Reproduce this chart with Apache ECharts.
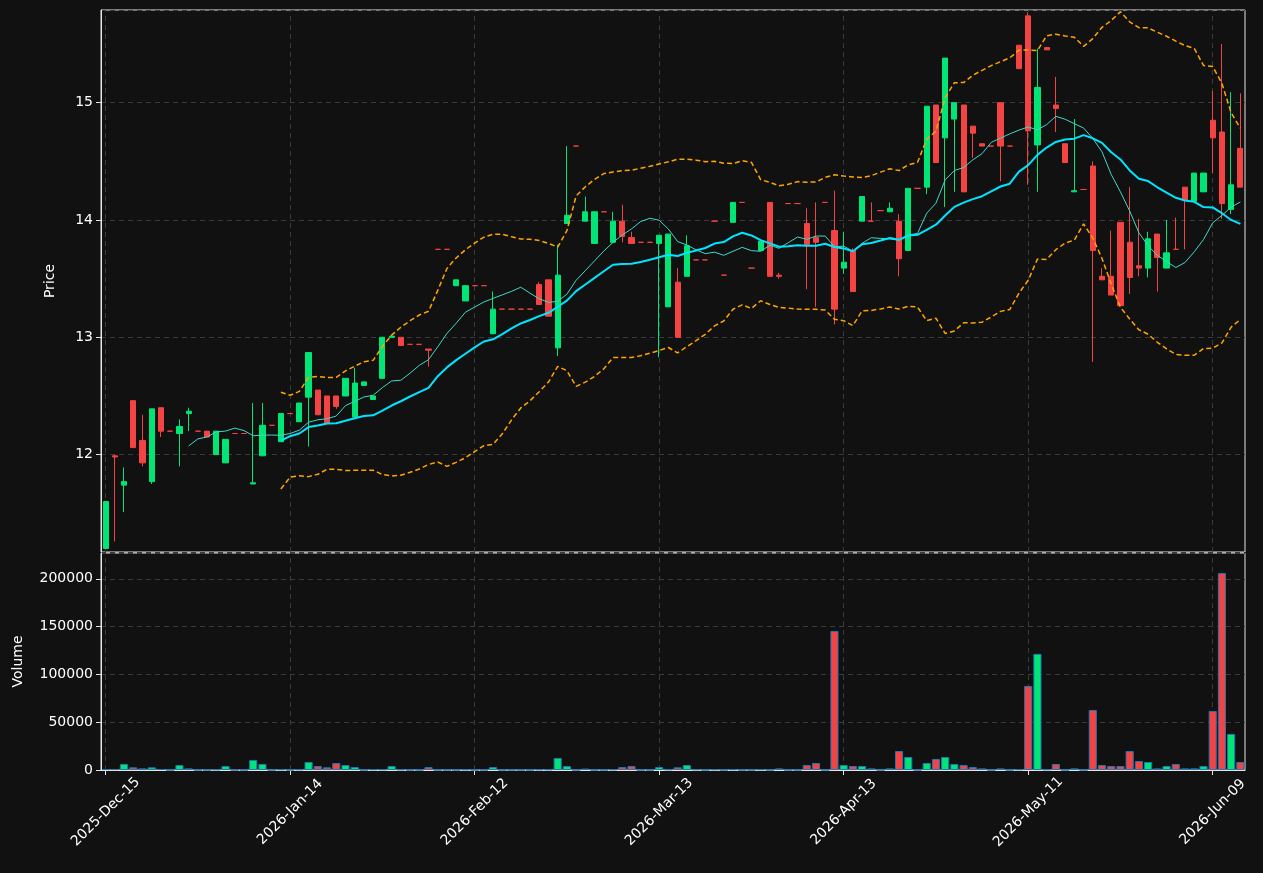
<!DOCTYPE html>
<html>
<head>
<meta charset="utf-8">
<script src="https://cdn.jsdelivr.net/npm/echarts@6/dist/echarts.min.js"></script>
<style>
  html, body { margin: 0; padding: 0; background: #111111; }
  #chart { width: 1263px; height: 873px; }
</style>
</head>
<body>
<div id="chart"></div>
<script>
// open, close, high, low per trading day
var opens = [11.20,11.99,11.74,12.46,12.12,11.77,12.40,12.20,12.18,12.35,12.20,12.20,12.00,11.93,12.18,12.18,11.75,11.99,12.25,12.11,
  12.35,12.28,12.49,12.55,12.50,12.50,12.50,12.32,12.59,12.47,12.65,13.00,13.00,12.94,12.94,12.90,13.75,13.75,13.44,13.31,
  13.44,13.44,13.03,13.24,13.24,13.24,13.24,13.45,13.49,12.91,13.97,14.63,13.99,13.80,14.07,13.81,13.99,13.85,13.81,13.81,
  13.80,13.26,13.47,13.52,13.66,13.66,13.99,13.53,13.98,14.15,13.59,13.74,14.15,13.53,14.14,14.14,13.97,13.85,14.15,13.91,
  13.59,13.74,13.99,13.99,14.08,14.07,13.99,13.74,14.27,14.28,14.98,14.70,14.86,14.98,14.80,14.65,14.63,15.00,14.63,15.49,
  15.74,14.64,15.47,14.98,14.65,14.24,14.26,14.46,13.52,13.52,13.98,13.81,13.61,13.59,13.88,13.59,13.75,14.28,14.16,14.24,
  14.85,14.75,14.09,14.61];
var closes = [11.60,11.98,11.77,12.06,11.93,12.39,12.20,12.20,12.24,12.37,12.20,12.15,12.20,12.13,12.18,12.18,11.76,12.25,12.25,12.35,
  12.35,12.44,12.87,12.34,12.27,12.41,12.65,12.61,12.62,12.50,13.00,13.01,12.93,12.94,12.94,12.89,13.75,13.75,13.49,13.44,
  13.44,13.44,13.24,13.24,13.24,13.24,13.24,13.28,13.18,13.53,14.04,14.63,14.07,14.07,14.07,13.99,13.86,13.80,13.81,13.81,
  13.87,13.88,13.00,13.78,13.66,13.66,13.99,13.53,14.15,14.15,13.59,13.82,13.52,13.52,14.14,14.14,13.79,13.81,14.15,13.24,
  13.64,13.39,14.20,13.99,14.08,14.10,13.67,14.27,14.27,14.97,14.49,15.38,15.00,14.24,14.74,14.63,14.63,14.63,14.63,15.29,
  14.76,15.13,15.45,14.95,14.49,14.25,14.26,13.74,13.49,13.36,13.27,13.51,13.59,13.84,13.68,13.72,13.75,14.17,14.40,14.40,
  14.70,14.14,14.30,14.28];
var highs = [11.60,12.00,11.89,12.46,12.34,12.39,12.40,12.20,12.30,12.40,12.20,12.20,12.20,12.13,12.18,12.18,12.44,12.44,12.25,12.35,
  12.35,12.44,12.87,12.55,12.50,12.50,12.65,12.74,12.62,12.50,13.00,13.01,13.00,12.94,12.94,12.90,13.75,13.75,13.49,13.44,
  13.44,13.44,13.39,13.24,13.24,13.24,13.24,13.47,13.49,13.79,14.63,14.63,14.20,14.07,14.07,14.07,14.13,13.90,13.81,13.81,
  13.87,13.88,13.59,13.87,13.66,13.66,13.99,13.53,14.15,14.15,13.59,13.82,14.15,13.55,14.14,14.14,14.10,14.15,14.15,14.25,
  13.90,13.76,14.20,14.15,14.08,14.15,14.05,14.27,14.27,14.97,14.98,15.38,15.00,14.98,14.80,14.65,14.63,15.00,14.63,15.49,
  15.77,15.46,15.47,15.22,14.65,14.86,14.26,14.50,13.59,13.91,13.98,14.28,14.01,13.90,13.88,14.00,14.02,14.28,14.40,14.40,
  15.10,15.50,15.09,15.08];
var lows = [11.20,11.26,11.51,12.06,11.90,11.75,12.15,12.20,11.90,12.20,12.20,12.15,12.00,11.93,12.18,12.18,11.75,11.99,12.25,12.11,
  12.35,12.28,12.07,12.34,12.27,12.39,12.50,12.32,12.59,12.47,12.65,13.00,12.93,12.94,12.94,12.75,13.75,13.75,13.44,13.31,
  13.44,13.44,13.03,13.24,13.24,13.24,13.24,13.28,13.18,12.84,13.97,14.63,13.99,13.80,14.07,13.81,13.81,13.80,13.81,13.81,
  12.83,13.26,13.00,13.52,13.66,13.66,13.99,13.53,13.98,14.15,13.59,13.74,13.52,13.50,14.14,14.14,13.41,13.26,14.15,13.11,
  13.54,13.39,13.99,13.99,14.08,14.07,13.52,13.74,14.27,14.22,14.49,14.11,14.24,14.24,14.53,14.63,14.63,14.33,14.63,15.29,
  14.30,14.24,15.45,14.75,14.49,14.24,14.26,12.79,13.49,13.36,13.27,13.37,13.52,13.51,13.39,13.59,13.75,13.75,14.16,14.24,
  14.40,14.01,14.05,14.28];
var volumes = [1000,1000,6300,2800,1700,2800,1000,0,5200,1700,0,0,600,4200,0,0,10500,6300,0,700,
  0,700,8400,4200,2800,7300,5200,3100,0,700,700,4200,600,0,0,3100,0,0,0,600,
  0,0,3100,0,0,0,0,600,600,12600,4200,0,1500,0,0,600,3100,4200,0,0,
  3100,700,2800,5200,700,0,700,0,700,0,0,700,0,1700,0,0,5200,7300,0,145500,
  5200,4200,4200,1700,0,1700,19900,13600,0,7300,11500,13600,6300,5200,3100,1700,0,1700,0,700,
  88000,121500,700,6300,0,1700,0,62800,5200,4200,4200,19900,9400,8400,1700,4200,6300,1700,1700,4200,
  61800,206000,37700,8400];

// NYSE trading days from 2025-12-15
var holidays = ['2025-12-25', '2026-01-01', '2026-01-19', '2026-02-16', '2026-04-03', '2026-05-25'];
var monthNames = ['Jan','Feb','Mar','Apr','May','Jun','Jul','Aug','Sep','Oct','Nov','Dec'];
var dates = [];
var d = new Date(Date.UTC(2025, 11, 15));
while (dates.length < closes.length) {
    var iso = d.toISOString().slice(0, 10);
    var wd = d.getUTCDay();
    if (wd !== 0 && wd !== 6 && holidays.indexOf(iso) < 0) {
        dates.push(d.getUTCFullYear() + '-' + monthNames[d.getUTCMonth()] + '-' + iso.slice(8, 10));
    }
    d.setUTCDate(d.getUTCDate() + 1);
}

var UP = '#00e676', DOWN = '#f44343';

function sma(n) {
    var out = [];
    for (var i = 0; i < closes.length; i++) {
        if (i < n - 1) { out.push('-'); continue; }
        var s = 0;
        for (var j = i - n + 1; j <= i; j++) s += closes[j];
        out.push(+(s / n).toFixed(4));
    }
    return out;
}
var ma10 = sma(10);
var ma20 = sma(20);
var bbUp = [], bbLow = [];
for (var i = 0; i < closes.length; i++) {
    if (i < 19) { bbUp.push('-'); bbLow.push('-'); continue; }
    var v = 0;
    for (var j = i - 19; j <= i; j++) v += Math.pow(closes[j] - ma20[i], 2);
    var sd = Math.sqrt(v / 20);
    bbUp.push(+(ma20[i] + 2 * sd).toFixed(4));
    bbLow.push(+(ma20[i] - 2 * sd).toFixed(4));
}

var candles = [], volBars = [];
for (var i = 0; i < closes.length; i++) {
    var item = { value: [opens[i], closes[i], lows[i], highs[i]] };
    if (closes[i] === opens[i]) item.itemStyle = { color: DOWN, color0: DOWN, borderColor: DOWN, borderColor0: DOWN };
    candles.push(item);
    volBars.push({ value: volumes[i], itemStyle: { color: closes[i] > opens[i] ? UP : DOWN } });
}

// vertical grid lines at the labelled dates
var vLines = [];
for (var i = 0; i < dates.length; i += 20) vLines.push({ xAxis: dates[i] });
function gridLines(xi, yi) {
    return {
        type: 'line', data: [], xAxisIndex: xi, yAxisIndex: yi, z: 0, silent: true,
        markLine: {
            silent: true, symbol: 'none', label: { show: false }, z: 0,
            lineStyle: { color: '#3a3a3a', type: [5, 4], width: 1 },
            data: vLines
        }
    };
}

var font = 'DejaVu Sans';
var axisText = { color: '#ffffff', fontSize: 14, fontFamily: font };
var splitDash = { show: true, lineStyle: { color: '#3a3a3a', type: [5, 4], width: 1 } };

var chart = echarts.init(document.getElementById('chart'));
chart.setOption({
    backgroundColor: '#111111',
    animation: false,
    grid: [
        { left: 101, right: 18, top: 10, height: 542, show: true, borderColor: '#e6e6e6', borderWidth: 1 },
        { left: 101, right: 18, top: 553, height: 217, show: true, borderColor: '#e6e6e6', borderWidth: 1 }
    ],
    xAxis: [
        {
            type: 'category', data: dates, gridIndex: 0, boundaryGap: true,
            axisLine: { show: false }, axisTick: { show: false }, axisLabel: { show: false },
            splitLine: { show: false }
        },
        {
            type: 'category', data: dates, gridIndex: 1, boundaryGap: true,
            axisLine: { lineStyle: { color: '#e6e6e6' } },
            axisTick: { show: true, interval: 19, alignWithLabel: true, lineStyle: { color: '#e6e6e6' } },
            axisLabel: Object.assign({ interval: 19, rotate: 45, margin: 42, align: 'center', verticalAlign: 'middle' }, axisText),
            splitLine: { show: false }
        }
    ],
    yAxis: [
        {
            gridIndex: 0, min: 11.17, max: 15.79, scale: true,
            name: 'Price', nameLocation: 'middle', nameGap: 44,
            nameTextStyle: axisText,
            axisLine: { show: true, lineStyle: { color: '#e6e6e6' } },
            axisTick: { show: true, lineStyle: { color: '#e6e6e6' } },
            axisLabel: Object.assign({ showMinLabel: false, showMaxLabel: false }, axisText),
            splitLine: splitDash
        },
        {
            gridIndex: 1, min: 0, max: 227000, interval: 50000,
            name: 'Volume', nameLocation: 'middle', nameGap: 76,
            nameTextStyle: axisText,
            axisLine: { show: true, lineStyle: { color: '#e6e6e6' } },
            axisTick: { show: true, lineStyle: { color: '#e6e6e6' } },
            axisLabel: Object.assign({ showMaxLabel: false, formatter: function (v) { return String(v); } }, axisText),
            splitLine: splitDash
        }
    ],
    series: [
        gridLines(0, 0),
        gridLines(1, 1),
        {
            type: 'candlestick', data: candles, xAxisIndex: 0, yAxisIndex: 0, barWidth: '62%', z: 2,
            itemStyle: { color: UP, color0: DOWN, borderColor: UP, borderColor0: DOWN, borderWidth: 1 }
        },
        { type: 'line', data: ma10, symbol: 'none', lineStyle: { color: '#40d8c8', width: 1 }, z: 3 },
        { type: 'line', data: ma20, symbol: 'none', lineStyle: { color: '#00e5ff', width: 2 }, z: 3 },
        { type: 'line', data: bbUp, symbol: 'none', lineStyle: { color: '#ffa500', width: 1.5, type: [5, 3] }, z: 3 },
        { type: 'line', data: bbLow, symbol: 'none', lineStyle: { color: '#ffa500', width: 1.5, type: [5, 3] }, z: 3 },
        {
            type: 'bar', data: volBars, xAxisIndex: 1, yAxisIndex: 1, barWidth: '88%', z: 2,
            itemStyle: { borderColor: '#1f77b4', borderWidth: 1 }
        }
    ]
});
</script>
</body>
</html>
